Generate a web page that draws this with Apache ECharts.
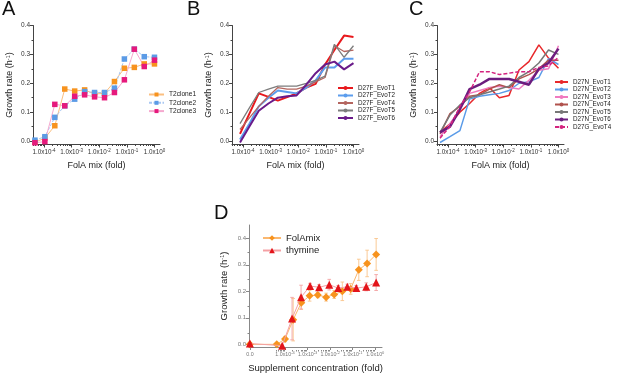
<!DOCTYPE html>
<html><head><meta charset="utf-8">
<script src="https://cdn.jsdelivr.net/npm/echarts@6/dist/echarts.min.js"></script>
<style>html,body{margin:0;padding:0;background:#fff}#c{width:617px;height:374px}</style>
</head><body><div id="c"></div>
<script>
// ---------- DATA ----------
// x positions are log10(FolA mix fold)
const xA = [-4.33,-3.97,-3.61,-3.25,-2.89,-2.53,-2.17,-1.81,-1.45,-1.09,-0.73,-0.37,0];
const aClone1 = [-0.004,0.01,0.053,0.18,0.173,0.177,0.163,0.165,0.206,0.252,0.255,0.267,0.267];
const aClone2 = [0.003,0.015,0.082,0.122,0.145,0.171,0.168,0.168,0.183,0.284,0.318,0.292,0.29];
const aClone3 = [-0.006,-0.002,0.127,0.122,0.155,0.16,0.153,0.15,0.168,0.212,0.318,0.258,0.28];

const xB = [-4.11,-3.77,-3.43,-3.08,-2.74,-2.40,-2.06,-1.71,-1.37,-1.03,-0.69,-0.34,0];
const bT1 = [0.025,0.095,0.165,0.153,0.14,0.152,0.165,0.185,0.198,0.265,0.315,0.365,0.36];
const bT2 = [0.005,0.06,0.12,0.15,0.175,0.17,0.165,0.185,0.21,0.255,0.255,0.285,0.285];
const bT4 = [0.04,0.08,0.12,0.155,0.185,0.18,0.18,0.19,0.205,0.22,0.33,0.31,0.315];
const bT5 = [0.06,0.115,0.168,0.18,0.19,0.19,0.19,0.2,0.21,0.225,0.335,0.29,0.33];
const bT6 = [-0.005,0.05,0.105,0.13,0.15,0.155,0.158,0.195,0.235,0.265,0.275,0.248,0.27];

const xC = [-4.29,-3.93,-3.57,-3.22,-2.86,-2.5,-2.14,-1.79,-1.43,-1.07,-0.71,-0.36,0];
const cT1 = [0.03,0.06,0.10,0.13,0.165,0.185,0.15,0.158,0.246,0.275,0.333,0.287,0.252];
const cT2 = [-0.005,0.015,0.036,0.145,0.155,0.16,0.165,0.175,0.2,0.205,0.22,0.285,0.265];
const cT3 = [0.015,0.06,0.11,0.165,0.175,0.185,0.19,0.185,0.18,0.21,0.245,0.25,0.33];
const cT4 = [0.025,0.095,0.12,0.155,0.16,0.18,0.195,0.185,0.215,0.23,0.25,0.28,0.28];
const cT5 = [0.03,0.09,0.125,0.15,0.16,0.17,0.18,0.19,0.22,0.24,0.27,0.315,0.3];
const cT6 = [0.03,0.05,0.11,0.18,0.195,0.215,0.215,0.215,0.205,0.195,0.25,0.27,0.32];
const cG4 = [0.01,0.05,0.12,0.17,0.24,0.24,0.23,0.235,0.24,0.24,0.255,0.26,0.29];

// panel D: first point is the "0.0" (no supplement) position
const zeroPos = -5.56;
const xFol = [zeroPos,-4.37,-4.0,-3.64,-3.28,-2.91,-2.55,-2.18,-1.82,-1.46,-1.09,-0.73,-0.36,0.04];
const folMean = [0.0,0.0,0.02,0.093,0.157,0.183,0.186,0.178,0.188,0.2,0.209,0.281,0.305,0.339];
const folErr  = [0.004,0.004,0.01,0.08,0.025,0.02,0.01,0.015,0.015,0.035,0.02,0.04,0.05,0.06];
const xThy = [zeroPos,-4.13,-3.69,-3.29,-2.89,-2.49,-2.04,-1.64,-1.24,-0.84,-0.4,0.04];
const thyMean = [0.003,-0.005,0.097,0.178,0.22,0.215,0.225,0.212,0.217,0.212,0.217,0.233];
const thyErr  = [0.004,0.003,0.08,0.045,0.01,0.01,0.02,0.01,0.01,0.01,0.015,0.03];

const xTickExp = [-4,-3,-2,-1,0];
const yTicks = [0,0.1,0.2,0.3,0.4];

// ---------- HELPERS ----------
const FONT = '"Liberation Sans", Arial, sans-serif';
const zip = (xs, ys) => xs.map((x,i)=>[x, ys[i]]);
const logMinors = (lo, hi) => { const r=[]; for(let d=-6; d<=1; d++){ for(let k=2;k<=9;k++){ const v=d+Math.log10(k); if(v>lo && v<hi) r.push(v);} } return r; };
const yMinors = [0.05,0.15,0.25,0.35];
const sup = (fs)=>({fontSize:fs, lineHeight:fs, verticalAlign:'top', fontFamily:FONT});

const rects = [
  {left:33, top:25.5, width:127, height:119},
  {left:232, top:25.5, width:127, height:119},
  {left:437, top:25.5, width:127, height:119},
  {left:249, top:225, width:133, height:125}
];
// grids 0-3: data; grids 4-7: same rectangles, carrying minor ticks only
const gridList = rects.concat(rects.map(r=>Object.assign({}, r)));

const ranges = [
  {xmin:-4.4,xmax:0.2,ymin:-0.012,ymax:0.4, col:'#444', lab:'#333'},
  {xmin:-4.4,xmax:0.2,ymin:-0.012,ymax:0.4, col:'#444', lab:'#333'},
  {xmin:-4.4,xmax:0.2,ymin:-0.012,ymax:0.4, col:'#444', lab:'#333'},
  {xmin:-5.6,xmax:0.3,ymin:-0.01,ymax:0.45, col:'#888', lab:'#777'}
];
const xNames = ['FolA mix (fold)','FolA mix (fold)','FolA mix (fold)','Supplement concentration (fold)'];

const xAxes = [], yAxes = [];
ranges.forEach((r,i)=>{
  const isD = i===3;
  const labVals = isD ? [zeroPos].concat(xTickExp) : xTickExp;
  const bf = isD ? 5.3 : 6.3, sf = isD ? 4 : 4.5;
  xAxes[i] = {
    type:'value', gridIndex:i, min:r.xmin, max:r.xmax, position:'bottom',
    splitLine:{show:false},
    axisLine:{onZero:false, lineStyle:{color:r.col, width:1}},
    axisTick:{show:true, customValues:labVals, length:3, lineStyle:{color:r.col}},
    axisLabel:{customValues:labVals, margin:4, color:r.lab, fontFamily:FONT, hideOverlap:false,
      formatter:(v)=> (Math.abs(v-zeroPos)<0.01 ? '{b|0.0}' : '{b|1.0x10}{s|'+Math.round(v)+'}'),
      rich:{b:{fontSize:bf, lineHeight:8, color:r.lab, fontFamily:FONT}, s:Object.assign({color:r.lab}, sup(sf))}},
    name:xNames[i], nameLocation:'middle', nameGap: isD?16:17,
    nameTextStyle:{fontSize:isD?9.5:9, color:'#222', fontFamily:FONT}
  };
  xAxes[i+4] = {
    type:'value', gridIndex:i+4, min:r.xmin, max:r.xmax, position:'bottom',
    splitLine:{show:false}, axisLine:{show:false, onZero:false}, axisLabel:{show:false},
    axisTick:{show:true, customValues:logMinors(isD?-4.5:r.xmin, r.xmax), length:1.5, lineStyle:{color:r.col}}
  };
  yAxes[i] = {
    type:'value', gridIndex:i, min:r.ymin, max:r.ymax, position:'left',
    splitLine:{show:false},
    axisLine:{show:true, onZero:false, lineStyle:{color:r.col, width:1}},
    axisTick:{show:true, customValues:yTicks, length:3, lineStyle:{color:r.col}},
    axisLabel:{customValues:yTicks, margin:3, fontSize:isD?6:6.5, color:r.lab, fontFamily:FONT, formatter:(v)=>v.toFixed(1)},
    name:'Growth rate (h{s|-1})', nameLocation:'middle', nameGap: isD?20:19,
    nameTextStyle:{fontSize:isD?9.5:9, color:'#222', fontFamily:FONT, rich:{s:Object.assign({color:'#222'}, sup(5.5))}}
  };
  yAxes[i+4] = {
    type:'value', gridIndex:i+4, min:r.ymin, max:r.ymax, position:'left',
    splitLine:{show:false}, axisLine:{show:false, onZero:false}, axisLabel:{show:false},
    axisTick:{show:true, customValues:yMinors, length:1.5, lineStyle:{color:r.col}}
  };
});

function lineSeries(name, g, xs, ys, color, width, extra){
  return Object.assign({
    name, type:'line', xAxisIndex:g, yAxisIndex:g, data:zip(xs,ys),
    symbol:'none', lineStyle:{color, width}, itemStyle:{color}, animation:false, z:3
  }, extra||{});
}
function markerSeries(name, xs, ys, color, lineColor, dashed){
  return {name, type:'line', xAxisIndex:0, yAxisIndex:0, data:zip(xs,ys),
    symbol:'rect', symbolSize:5.5, itemStyle:{color},
    lineStyle:{color:lineColor, width:1, type: dashed?[3,1.5]:'solid'}, animation:false, z:3};
}
function errSeries(g, xs, ys, es, color){
  return {type:'custom', xAxisIndex:g, yAxisIndex:g, animation:false, z:2,
    data: xs.map((x,i)=>[x, ys[i]-es[i], ys[i]+es[i]]),
    renderItem:(params, api)=>{
      const x=api.value(0), lo=api.value(1), hi=api.value(2);
      const p1=api.coord([x,lo]), p2=api.coord([x,hi]); const w=1.8;
      const st={stroke:color, lineWidth:0.9};
      return {type:'group', children:[
        {type:'line', shape:{x1:p1[0],y1:p1[1],x2:p2[0],y2:p2[1]}, style:st},
        {type:'line', shape:{x1:p1[0]-w,y1:p1[1],x2:p1[0]+w,y2:p1[1]}, style:st},
        {type:'line', shape:{x1:p2[0]-w,y1:p2[1],x2:p2[0]+w,y2:p2[1]}, style:st}
      ]};
    }};
}

const series = [
  markerSeries('T2clone1', xA, aClone1, '#f7931e', '#fbbf80', false),
  markerSeries('T2clone2', xA, aClone2, '#5b9be6', '#a9c8f2', true),
  markerSeries('T2clone3', xA, aClone3, '#e6197c', '#f5a9cf', false),

  lineSeries('D27F_EvoT1', 1, xB, bT1, '#e8191d', 2),
  lineSeries('D27F_EvoT2', 1, xB, bT2, '#5c9ded', 2),
  lineSeries('D27F_EvoT4', 1, xB, bT4, '#b4655f', 1.3),
  lineSeries('D27F_EvoT5', 1, xB, bT5, '#7d7d7d', 1.3),
  lineSeries('D27F_EvoT6', 1, xB, bT6, '#6a1b8a', 2),

  lineSeries('D27N_EvoT1', 2, xC, cT1, '#e8282b', 1.5),
  lineSeries('D27N_EvoT2', 2, xC, cT2, '#5a9be8', 1.5),
  lineSeries('D27N_EvoT3', 2, xC, cT3, '#f07ac0', 1.5),
  lineSeries('D27N_EvoT4', 2, xC, cT4, '#b0524d', 1.5),
  lineSeries('D27N_EvoT5', 2, xC, cT5, '#777777', 1.5),
  lineSeries('D27N_EvoT6', 2, xC, cT6, '#6c1d7e', 2.5),
  lineSeries('D27G_EvoT4', 2, xC, cG4, '#d4237f', 1.5, {lineStyle:{color:'#d4237f', width:1.5, type:[4,2]}}),

  errSeries(3, xFol, folMean, folErr, '#f9c48a'),
  errSeries(3, xThy, thyMean, thyErr, '#f3a3a3'),
  {name:'FolAmix', type:'line', xAxisIndex:3, yAxisIndex:3, data:zip(xFol, folMean),
    symbol:'diamond', symbolSize:8, itemStyle:{color:'#f7931e'}, lineStyle:{color:'#fbb870', width:1}, animation:false, z:3},
  {name:'thymine', type:'line', xAxisIndex:3, yAxisIndex:3, data:zip(xThy, thyMean),
    symbol:'triangle', symbolSize:8, itemStyle:{color:'#e3141a'}, lineStyle:{color:'#f4a0a4', width:1}, animation:false, z:4},
  {type:'scatter', xAxisIndex:3, yAxisIndex:3, data:[[-4.55,-0.01]], symbol:'none', silent:true, animation:false, z:10,
    label:{show:true, position:'inside', formatter:'//', fontSize:8, color:'#777', backgroundColor:'#fff', padding:[0,0], fontFamily:FONT}}
];

const legendBase = {orient:'vertical', itemWidth:15, itemHeight:5, itemGap:1,
  textStyle:{fontSize:6.3, lineHeight:7, color:'#222', fontFamily:FONT}, selectedMode:false, padding:0};
const legends = [
  Object.assign({}, legendBase, {left:148, top:91, data:['T2clone1','T2clone2','T2clone3'], itemGap:1.3,
    textStyle:{fontSize:6.6, lineHeight:7, color:'#222', fontFamily:FONT}}),
  Object.assign({}, legendBase, {left:337, top:84.5, data:['D27F_EvoT1','D27F_EvoT2','D27F_EvoT4','D27F_EvoT5','D27F_EvoT6'], itemGap:0.5}),
  Object.assign({}, legendBase, {left:554, top:78.5, itemWidth:13, data:['D27N_EvoT1','D27N_EvoT2','D27N_EvoT3','D27N_EvoT4','D27N_EvoT5','D27N_EvoT6','D27G_EvoT4'], itemGap:0.5}),
  Object.assign({}, legendBase, {left:262, top:233, itemWidth:18, itemHeight:7, itemGap:2.5, data:['FolAmix','thymine'],
    textStyle:{fontSize:9.5, lineHeight:9, color:'#222', fontFamily:FONT}})
];

const letter = (t,l,tp)=>({text:t, left:l, top:tp, padding:0, textStyle:{fontSize:20, fontWeight:'normal', color:'#111', fontFamily:FONT}});

const chart = echarts.init(document.getElementById('c'), null, {renderer:'canvas'});
chart.setOption({
  backgroundColor:'#fff', animation:false,
  title:[letter('A',2,-1), letter('B',187,-1), letter('C',409,-1), letter('D',214,203)],
  grid:gridList, xAxis:xAxes, yAxis:yAxes, legend:legends, series
});
</script></body></html>
